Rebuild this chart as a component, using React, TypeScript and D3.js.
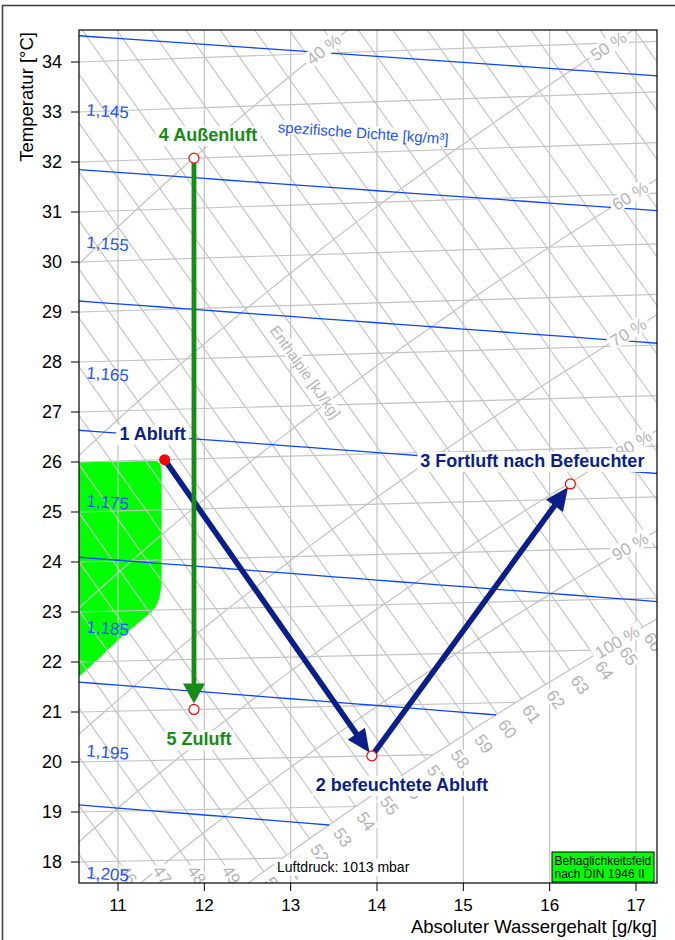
import React from "react";
import * as d3 from "d3";

// ---------------- data ----------------
const X_TICKS = [11, 12, 13, 14, 15, 16, 17];
const T_TICKS = [18, 19, 20, 21, 22, 23, 24, 25, 26, 27, 28, 29, 30, 31, 32, 33, 34];
const ISOTHERMS = [17, 18, 19, 20, 21, 22, 23, 24, 25, 26, 27, 28, 29, 30, 31, 32, 33, 34, 35];
const ENTHALPY_LINES = [44, 45, 46, 47, 48, 49, 50, 51, 52, 53, 54, 55, 56, 57, 58, 59, 60, 61, 62, 63, 64, 65, 66, 67, 68, 69, 70, 71, 72, 73, 74, 75, 76, 77, 78, 79, 80];
const ENTHALPY_BOTTOM_LABELS = [46, 47, 48, 49];
const ENTHALPY_SAT_LABELS = [50, 51, 52, 53, 54, 55, 56, 57, 58, 59, 60, 61, 62, 63, 64, 65, 66];
const RH_LINES = [40, 50, 60, 70, 80, 90, 100];
const RH_LABEL_X = [13.38, 16.68, 16.93, 16.91, 16.97, 16.93, 16.78];
const DENSITY_LINES = [1.14, 1.15, 1.16, 1.17, 1.18, 1.19, 1.2];
const DENSITY_LABEL_VALUES = [1.145, 1.155, 1.165, 1.175, 1.185, 1.195, 1.205];
const DENSITY_LABELS = ["1,145", "1,155", "1,165", "1,175", "1,185", "1,195", "1,205"];
const COMFORT_X = [10.4, 11.45, 11.49, 11.505, 11.505, 11.48, 11.44, 11.39, 11.05, 10.8, 10.4];
const COMFORT_T = [26.0, 25.98, 25.92, 25.7, 23.54, 23.25, 23.08, 22.97, 22.5, 22.1, 21.47];
const STATE_NAMES = ["1 Abluft", "2 befeuchtete Abluft", "3 Fortluft nach Befeuchter", "4 Außenluft", "5 Zuluft"];
const STATE_X = [11.54, 13.94, 16.24, 11.88, 11.88];
const STATE_T = [26.0, 20.0, 25.3, 32.0, 21.0];
const PROCESS_FROM = [0, 1, 3];
const PROCESS_TO = [1, 2, 4];
const ENTHALPY_TITLE = { x: 13.17, t: 27.67, text: "Enthalpie [kJ/kg]" };
const DENSITY_TITLE = { x: 13.84, t: 32.39, text: "spezifische Dichte [kg/m³]" };
const PRESSURE_TEXT = "Luftdruck: 1013 mbar";
const LEGEND_LINES = ["Behaglichkeitsfeld", "nach DIN 1946 II"];
const X_TITLE = "Absoluter Wassergehalt [g/kg]";
const Y_TITLE = "Temperatur [°C]";

// ---------------- physics ----------------
const P_AMB = 101325;
const R_AIR = 287.06;
const pSat = (t: number) => 611.2 * Math.exp((17.62 * t) / (243.12 + t));
const tFromPv = (pv: number) => {
  const l = Math.log(pv / 611.2);
  return (243.12 * l) / (17.62 - l);
};
const xOf = (t: number, phi: number) => {
  const pv = phi * pSat(t);
  return (622 * pv) / (P_AMB - pv);
};
const xSat = (t: number) => xOf(t, 1);
const Ycoord = (t: number, xg: number) => t * (1 + (1.86 * xg) / 1000 / 1.006);
const tFromY = (Y: number, xg: number) => Y / (1 + (1.86 * xg) / 1000 / 1.006);
const tRho = (rho: number, xg: number) => {
  const x = xg / 1000;
  return (P_AMB * (1 + x)) / (rho * R_AIR * (1 + 1.608 * x)) - 273.15;
};
function bisect(f: (v: number) => number, a: number, b: number) {
  let fa = f(a);
  for (let i = 0; i < 60; i++) {
    const m = (a + b) / 2;
    const fm = f(m);
    if (fm > 0 === fa > 0) {
      a = m;
      fa = fm;
    } else b = m;
  }
  return (a + b) / 2;
}

// ---------------- style ----------------
const FONT = '"Liberation Sans", Arial, Helvetica, sans-serif';
const PLOT = { left: 79, right: 657, top: 30, bottom: 883 };
const GRID = "#c3c3c3";
const GRID_TEXT = "#b5b5b5";
const BLUE = "#0a46ff";
const BLUE_TEXT = "#2255ff";
const GREEN = "#168c16";
const NAVY = "#0a1f8c";
const STATE_COLORS = [NAVY, NAVY, NAVY, GREEN, GREEN];
const PROCESS_COLORS = [NAVY, NAVY, GREEN];
const STATE_LABEL_OFFSET = [
  [-12, -20],
  [30, 35],
  [-38, -17],
  [14, -17],
  [5, 36],
];

const REG: Record<string, number> = {
  a: 0.556, b: 0.556, c: 0.5, d: 0.556, e: 0.556, f: 0.278, g: 0.556, h: 0.556, i: 0.222, j: 0.222,
  k: 0.5, l: 0.222, m: 0.833, n: 0.556, o: 0.556, p: 0.556, r: 0.333, s: 0.5, t: 0.278, u: 0.556,
  z: 0.5, "ß": 0.611, " ": 0.278, ",": 0.278, "%": 0.889, "[": 0.278, "]": 0.278, "/": 0.278,
  "³": 0.333, ":": 0.278, E: 0.667, D: 0.722, J: 0.5, L: 0.556,
};
const BOLD: Record<string, number> = {
  a: 0.556, b: 0.611, c: 0.556, d: 0.611, e: 0.556, f: 0.333, g: 0.611, h: 0.611, l: 0.278, n: 0.611,
  o: 0.611, r: 0.389, t: 0.333, u: 0.611, "ß": 0.611, " ": 0.278, A: 0.722, B: 0.722, F: 0.611, Z: 0.611,
};
function textWidth(s: string, size: number, bold = false) {
  const tbl = bold ? BOLD : REG;
  let w = 0;
  for (const ch of s) w += /[0-9]/.test(ch) ? 0.556 : tbl[ch] ?? 0.58;
  return w * size;
}

function BoxedText({ x, y, angle, text, size, fill, pad = 2 }: any) {
  const w = textWidth(text, size) + pad * 2;
  const h = size * 0.95;
  return (
    <g transform={`translate(${x},${y}) rotate(${angle})`}>
      <rect x={-w / 2} y={-h / 2} width={w} height={h} fill="#fff" />
      <text x={0} y={0} dy="0.36em" textAnchor="middle" fontSize={size} fill={fill} fontFamily={FONT}>
        {text}
      </text>
    </g>
  );
}

export default function App() {
  const xScale = d3.scaleLinear().domain([11, 17]).range([118, 636]);
  const xMin = xScale.invert(PLOT.left);
  const yScale = d3
    .scaleLinear()
    .domain([Ycoord(18, xMin), Ycoord(34, xMin)])
    .range([862, 62]);
  const pt = (xg: number, t: number): [number, number] => [xScale(xg), yScale(Ycoord(t, xg))];
  const line = d3.line();

  // isotherms
  const isoPaths = ISOTHERMS.map((t) => line([pt(9.5, t), pt(Math.min(xSat(t), 18.5), t)]) as string);

  // enthalpy lines
  const Yh = (h: number, xg: number) => (h - 2.501 * xg) / 1.006;
  const hEnd = (h: number) => bisect((xg) => xg - xSat(tFromY(Yh(h, xg), xg)), 5, 30);
  const hPt = (h: number, xg: number): [number, number] => [xScale(xg), yScale(Yh(h, xg))];
  const enthPaths = ENTHALPY_LINES.map((h) => line([hPt(h, 8), hPt(h, hEnd(h))]) as string);
  const a0 = hPt(50, 12);
  const a1 = hPt(50, 13);
  const hAng = Math.atan2(a1[1] - a0[1], a1[0] - a0[0]);
  const hAngDeg = (hAng * 180) / Math.PI;
  const ux = Math.cos(hAng);
  const uy = Math.sin(hAng);
  const satLabels = ENTHALPY_SAT_LABELS.map((h) => {
    const e = hPt(h, hEnd(h));
    return { h, x: e[0] + ux * 18, y: e[1] + uy * 18 };
  });
  const Yb = yScale.invert(PLOT.bottom);
  const bottomLabels = ENTHALPY_BOTTOM_LABELS.map((h) => {
    const xg = (h - 1.006 * Yb) / 2.501;
    const e = [xScale(xg), PLOT.bottom];
    return { h, x: e[0] - ux * 10, y: e[1] - uy * 10 };
  });

  // RH curves
  const tSamples = d3.range(8, 42, 0.2);
  const rhPaths = RH_LINES.map((rh) => line(tSamples.map((t) => pt(xOf(t, rh / 100), t))) as string);
  const rhLabels = RH_LINES.map((rh, i) => {
    const tAt = (xg: number) => tFromPv((P_AMB * xg) / (622 + xg) / (rh / 100));
    const xg = RH_LABEL_X[i];
    const p0 = pt(xg, tAt(xg));
    const p1 = pt(xg + 0.1, tAt(xg + 0.1));
    return {
      text: `${rh} %`,
      x: p0[0],
      y: p0[1],
      angle: (Math.atan2(p1[1] - p0[1], p1[0] - p0[0]) * 180) / Math.PI,
    };
  });

  // density lines
  const densEnd = (rho: number) => {
    const g = (xg: number) => xg - xSat(tRho(rho, xg));
    return g(18.5) > 0 ? bisect(g, 9, 18.5) : 18.5;
  };
  const densPaths = DENSITY_LINES.map((rho) => {
    const end = densEnd(rho);
    const xs = d3.range(9, end, 0.25).concat([end]);
    return line(xs.map((xg) => pt(xg, tRho(rho, xg)))) as string;
  });
  const densLabels = DENSITY_LABEL_VALUES.map((rho, i) => {
    const xg0 = xScale.invert(86);
    const p0 = pt(xg0, tRho(rho, xg0));
    const p1 = pt(xg0 + 0.5, tRho(rho, xg0 + 0.5));
    return {
      text: DENSITY_LABELS[i],
      x: 86,
      y: p0[1] + 12,
      angle: (Math.atan2(p1[1] - p0[1], p1[0] - p0[0]) * 180) / Math.PI,
    };
  });
  const dtp = pt(DENSITY_TITLE.x, DENSITY_TITLE.t);
  const dtp1 = pt(DENSITY_TITLE.x + 0.5, tRho(1.1458, DENSITY_TITLE.x + 0.5));
  const dtp0 = pt(DENSITY_TITLE.x, tRho(1.1458, DENSITY_TITLE.x));
  const dAng = (Math.atan2(dtp1[1] - dtp0[1], dtp1[0] - dtp0[0]) * 180) / Math.PI;
  const etp = pt(ENTHALPY_TITLE.x, ENTHALPY_TITLE.t);

  // comfort field
  const comfortPath = line(COMFORT_X.map((xg, i) => pt(xg, COMFORT_T[i]))) + "Z";

  // states
  const states = STATE_NAMES.map((name, i) => {
    const p = pt(STATE_X[i], STATE_T[i]);
    return { name, x: p[0], y: p[1], color: STATE_COLORS[i] };
  });

  const arrows = PROCESS_FROM.map((fi, k) => {
    const a = states[fi];
    const b = states[PROCESS_TO[k]];
    const dx = b.x - a.x;
    const dy = b.y - a.y;
    const L = Math.hypot(dx, dy);
    const vx = dx / L;
    const vy = dy / L;
    const isGreen = PROCESS_COLORS[k] === GREEN;
    const tipOff = isGreen ? 6 : 4;
    const tip = [b.x - vx * tipOff, b.y - vy * tipOff];
    const headLen = isGreen ? 20 : 23;
    const headW = isGreen ? 11 : 10.5;
    const base = [tip[0] - vx * headLen, tip[1] - vy * headLen];
    const left = [base[0] - vy * headW, base[1] + vx * headW];
    const right = [base[0] + vy * headW, base[1] - vx * headW];
    return {
      color: PROCESS_COLORS[k],
      width: isGreen ? 4.8 : 5.6,
      shaft: line([[a.x, a.y], [base[0] + vx * 2, base[1] + vy * 2]]) as string,
      head: `M${tip[0]},${tip[1]}L${left[0]},${left[1]}L${right[0]},${right[1]}Z`,
    };
  });

  const yTickPos = (t: number) => yScale(Ycoord(t, xMin));

  return (
    <svg
      width={675}
      height={940}
      style={{ position: "absolute", left: 0, top: 0, display: "block" }}
      fontFamily={FONT}
    >
      <defs>
        <clipPath id="plotClip">
          <rect x={PLOT.left} y={PLOT.top} width={PLOT.right - PLOT.left} height={PLOT.bottom - PLOT.top} />
        </clipPath>
      </defs>
      <rect x={0} y={0} width={675} height={940} fill="#fff" />
      {/* outer frame */}
      <rect x={2.5} y={5.5} width={800} height={1000} fill="none" stroke="#444" strokeWidth={1.6} />

      <g clipPath="url(#plotClip)">
        <path d={comfortPath} fill="#00ff00" stroke="none" />
        {X_TICKS.map((v) => (
          <line key={v} x1={xScale(v)} x2={xScale(v)} y1={PLOT.top} y2={PLOT.bottom} stroke={GRID} strokeWidth={1.2} />
        ))}
        {isoPaths.map((d, i) => (
          <path key={"iso" + i} d={d} fill="none" stroke={GRID} strokeWidth={1.2} />
        ))}
        {enthPaths.map((d, i) => (
          <path key={"h" + i} d={d} fill="none" stroke={GRID} strokeWidth={1.1} />
        ))}
        {rhPaths.map((d, i) => (
          <path key={"rh" + i} d={d} fill="none" stroke={GRID} strokeWidth={1.2} />
        ))}
        {densPaths.map((d, i) => (
          <path key={"rho" + i} d={d} fill="none" stroke={BLUE} strokeWidth={1.3} />
        ))}
        {satLabels.map((l) => (
          <BoxedText key={"hs" + l.h} x={l.x} y={l.y} angle={hAngDeg} text={String(l.h)} size={17} fill={GRID_TEXT} />
        ))}
        {bottomLabels.map((l) => (
          <BoxedText key={"hb" + l.h} x={l.x} y={l.y} angle={hAngDeg} text={String(l.h)} size={17} fill={GRID_TEXT} />
        ))}
        {rhLabels.map((l) => (
          <BoxedText key={l.text} x={l.x} y={l.y} angle={l.angle} text={l.text} size={17} fill={GRID_TEXT} pad={3} />
        ))}
        <BoxedText x={etp[0]} y={etp[1]} angle={hAngDeg} text={ENTHALPY_TITLE.text} size={15} fill={GRID_TEXT} />
        <BoxedText x={dtp[0]} y={dtp[1]} angle={dAng} text={DENSITY_TITLE.text} size={15} fill={BLUE_TEXT} />
        {densLabels.map((l) => (
          <text
            key={l.text}
            x={l.x}
            y={l.y}
            transform={`rotate(${l.angle},${l.x},${l.y})`}
            fontSize={17}
            fill={BLUE_TEXT}
          >
            {l.text}
          </text>
        ))}
      </g>

      {/* pressure note */}
      <rect x={274} y={859} width={textWidth(PRESSURE_TEXT, 14) + 6} height={17} fill="#fff" />
      <text x={277} y={872} fontSize={14} fill="#000">
        {PRESSURE_TEXT}
      </text>

      {/* legend */}
      <rect x={552} y={852} width={102} height={30} fill="#00ff00" stroke="#000" strokeWidth={1} />
      <text x={554.5} y={864.5} fontSize={12} fill="#000">
        {LEGEND_LINES[0]}
      </text>
      <text x={554.5} y={878} fontSize={12} fill="#000">
        {LEGEND_LINES[1]}
      </text>

      {/* state labels */}
      {states.map((s, i) => {
        const lx = s.x + STATE_LABEL_OFFSET[i][0];
        const ly = s.y + STATE_LABEL_OFFSET[i][1];
        const w = textWidth(s.name, 18, true);
        return (
          <g key={s.name}>
            <rect x={lx - w / 2 - 3} y={ly - 15} width={w + 6} height={20} fill="#fff" />
            <text x={lx} y={ly} textAnchor="middle" fontSize={18} fontWeight="bold" fill={s.color}>
              {s.name}
            </text>
          </g>
        );
      })}

      {/* arrows */}
      {arrows.map((a, i) => (
        <g key={"arr" + i}>
          <path d={a.shaft} stroke={a.color} strokeWidth={a.width} fill="none" />
          <path d={a.head} fill={a.color} stroke="none" />
        </g>
      ))}

      {/* points */}
      {states.map((s, i) =>
        i === 0 ? (
          <circle key={"p" + i} cx={s.x} cy={s.y} r={5.5} fill="#ff0000" />
        ) : (
          <circle key={"p" + i} cx={s.x} cy={s.y} r={5} fill="#fff" stroke="#ff0000" strokeWidth={1.2} />
        )
      )}

      {/* plot frame */}
      <rect
        x={PLOT.left}
        y={PLOT.top}
        width={PLOT.right - PLOT.left}
        height={PLOT.bottom - PLOT.top}
        fill="none"
        stroke="#000"
        strokeWidth={1.2}
      />

      {/* axes */}
      {X_TICKS.map((v) => (
        <g key={"xt" + v}>
          <line x1={xScale(v)} x2={xScale(v)} y1={PLOT.bottom} y2={PLOT.bottom + 8} stroke="#000" strokeWidth={1} />
          <text x={xScale(v)} y={911} textAnchor="middle" fontSize={17} fill="#000">
            {v}
          </text>
        </g>
      ))}
      {T_TICKS.map((t) => (
        <g key={"yt" + t}>
          <line x1={PLOT.left - 8} x2={PLOT.left} y1={yTickPos(t)} y2={yTickPos(t)} stroke="#000" strokeWidth={1} />
          <text x={62} y={yTickPos(t)} dy="0.35em" textAnchor="end" fontSize={18} fill="#000">
            {t}
          </text>
        </g>
      ))}
      <text x={657} y={933} textAnchor="end" fontSize={18.5} fill="#000">
        {X_TITLE}
      </text>
      <text transform="translate(33,32) rotate(-90)" textAnchor="end" fontSize={18.5} fill="#000">
        {Y_TITLE}
      </text>
    </svg>
  );
}
